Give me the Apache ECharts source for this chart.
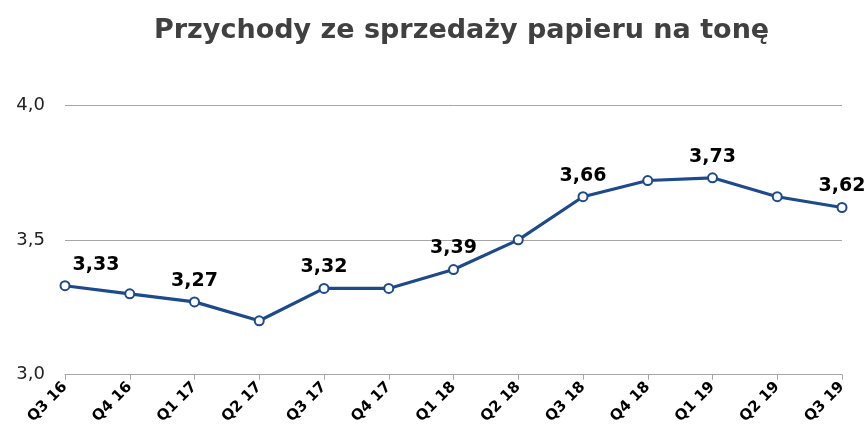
<!DOCTYPE html>
<html>
<head>
<meta charset="UTF-8">
<title>Przychody ze sprzedaży papieru na tonę</title>
<script src="https://cdn.jsdelivr.net/npm/echarts@6/dist/echarts.min.js"></script>
<style>
  * { margin: 0; padding: 0; }
  body { background: #fff; }
</style>
</head>
<body>
<div id="main" style="width: 866px; height: 427px;"></div>
<script>
var categories = ['Q3 16', 'Q4 16', 'Q1 17', 'Q2 17', 'Q3 17', 'Q4 17', 'Q1 18', 'Q2 18', 'Q3 18', 'Q4 18', 'Q1 19', 'Q2 19', 'Q3 19'];
var values = [3.33, 3.30, 3.27, 3.20, 3.32, 3.32, 3.39, 3.50, 3.66, 3.72, 3.73, 3.66, 3.62];
// which points carry a value label
var labelled = [0, 2, 4, 6, 8, 10, 12];
var yTicks = [3.0, 3.5, 4.0];

var font = 'DejaVu Sans, Verdana, sans-serif';

function fmt(v) {
  return v.toFixed(2).replace('.', ',');
}

var seriesData = values.map(function (v, i) {
  var item = { value: v };
  if (labelled.indexOf(i) >= 0) {
    item.label = { show: true };
    if (i === 0) item.label.offset = [31, 0];
  }
  return item;
});

var myChart = echarts.init(document.getElementById('main'));
var option = {
  backgroundColor: '#fff',
  animation: false,
  title: {
    text: 'Przychody ze sprzedaży papieru na tonę',
    left: 149,
    top: 12,
    textStyle: {
      color: '#404040',
      fontSize: 27,
      fontWeight: 'bold',
      fontFamily: font
    }
  },
  grid: {
    left: 65,
    right: 24,
    top: 105,
    bottom: 52
  },
  xAxis: {
    type: 'category',
    data: categories,
    boundaryGap: false,
    axisLine: { lineStyle: { color: '#a6a6a6', width: 1 } },
    axisTick: { show: true, alignWithLabel: true, length: 5, lineStyle: { color: '#a6a6a6' } },
    axisLabel: {
      rotate: 45,
      margin: 10,
      color: '#000',
      fontSize: 15,
      fontWeight: 'bold',
      fontFamily: font
    },
    splitLine: { show: false }
  },
  yAxis: {
    type: 'value',
    min: yTicks[0],
    max: yTicks[yTicks.length - 1],
    interval: 0.5,
    axisLine: { show: false },
    axisTick: { show: false },
    axisLabel: {
      margin: 20,
      color: '#222',
      fontSize: 18,
      fontFamily: font,
      formatter: function (v) { return v.toFixed(1).replace('.', ','); }
    },
    splitLine: { lineStyle: { color: '#a6a6a6', width: 1 } }
  },
  series: [{
    type: 'line',
    data: seriesData,
    symbol: 'circle',
    symbolSize: 9,
    lineStyle: { color: '#1d4a8c', width: 3.2 },
    itemStyle: { color: '#fff', borderColor: '#1d4a8c', borderWidth: 2 },
    label: {
      show: false,
      position: 'top',
      distance: 6,
      color: '#000',
      fontSize: 19,
      fontWeight: 'bold',
      fontFamily: font,
      formatter: function (p) { return fmt(p.value); }
    }
  }]
};
myChart.setOption(option);
</script>
</body>
</html>
